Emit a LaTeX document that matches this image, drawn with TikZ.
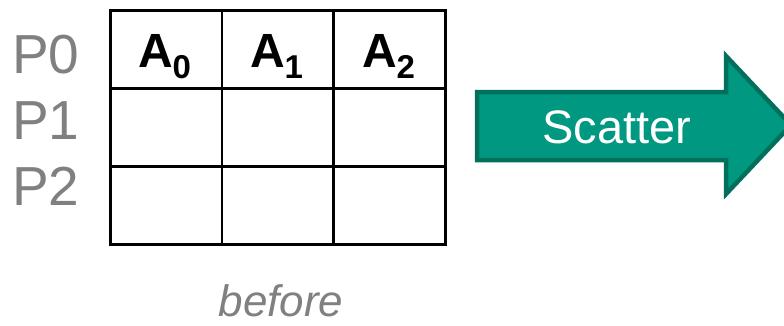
\documentclass[tikz,border=0pt]{standalone}
\usepackage{fontspec}
\setmainfont{Liberation Sans}
\definecolor{pgray}{RGB}{128,128,128}
\definecolor{tealfill}{RGB}{0,152,128}
\definecolor{tealline}{RGB}{0,112,92}
\newcommand{\subnum}[1]{\kern-1pt\raisebox{-11pt}{\fontsize{33}{36}\selectfont #1}}
\begin{document}
\begin{tikzpicture}[x=1pt,y=-1pt,
  cellbox/.style={draw=black,line width=2.6pt,minimum width=111.7pt,minimum height=78pt,inner sep=0pt,anchor=north west},
  plabel/.style={text=pgray,font=\fontsize{55}{60}\selectfont,anchor=base west,inner sep=0pt},
  alabel/.style={font=\bfseries\fontsize{48}{52}\selectfont,anchor=base,inner sep=0pt}]
\useasboundingbox (0,0) rectangle (784,325);
\clip (0,0) rectangle (784,325);
% grid cells
\foreach \r/\y in {0/9,1/87,2/165}{
  \foreach \c/\x in {0/109,1/220.7,2/332.3}{
    \node[cellbox] (cell\r\c) at (\x,\y) {};
  }
}
% column headers
\node[alabel] (a0) at (165,67) {A\subnum{0}};
\node[alabel] (a1) at (277,67) {A\subnum{1}};
\node[alabel] (a2) at (389,67) {A\subnum{2}};
% process labels
\node[plabel] (p0) at (12,73) {P0};
\node[plabel] (p1) at (12,139) {P1};
\node[plabel] (p2) at (12,205) {P2};
% scatter arrow
\draw[fill=tealfill,draw=tealline,line width=4.5pt,line join=miter]
  (477,92) -- (726,92) -- (726,56) -- (791,125) -- (726,194) -- (726,160) -- (477,160) -- cycle;
\node[text=white,font=\fontsize{47}{50}\selectfont,anchor=base,inner sep=0pt] (scatter) at (617,143) {Scatter};
% caption
\node[text=pgray,font=\itshape\fontsize{44}{48}\selectfont,anchor=base,inner sep=0pt] (before) at (281,316) {before};
\end{tikzpicture}
\end{document}
